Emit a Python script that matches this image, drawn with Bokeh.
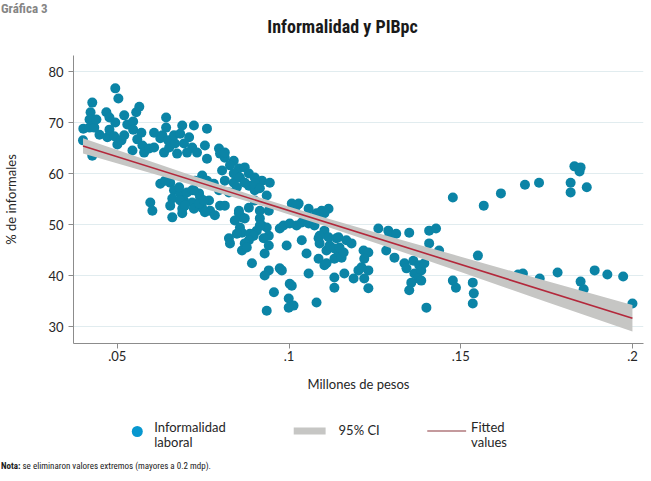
from bokeh.plotting import figure
from bokeh.models import Range1d, Label, FixedTicker, Div
from bokeh.layouts import column
from bokeh.embed import file_html
from bokeh.resources import INLINE

# ---------------- data ----------------
pib = [
    0.0400, 0.0401, 0.0419, 0.0433, 0.0422, 0.0427, 0.0419, 0.0439, 0.0448, 0.0468,
    0.0477, 0.0471, 0.0477, 0.0494, 0.0503, 0.0494, 0.0491, 0.0520, 0.0500, 0.0512,
    0.0520, 0.0529, 0.0546, 0.0555, 0.0564, 0.0546, 0.0570, 0.0558, 0.0544, 0.0573,
    0.0578, 0.0593, 0.0607, 0.0607, 0.0625, 0.0631, 0.0642, 0.0642, 0.0648, 0.0636,
    0.0651, 0.0668, 0.0427, 0.0689, 0.0723, 0.0761, 0.0665, 0.0683, 0.0709, 0.0694,
    0.0718, 0.0732, 0.0703, 0.0674, 0.0761, 0.0796, 0.0799, 0.0813, 0.0839, 0.0828,
    0.0854, 0.0871, 0.0805, 0.0883, 0.0900, 0.0921, 0.0747, 0.0761, 0.0781, 0.0813,
    0.0839, 0.0848, 0.0796, 0.0825, 0.0883, 0.0900, 0.0654, 0.0665, 0.0683, 0.0703,
    0.0694, 0.0718, 0.0741, 0.0767, 0.0770, 0.0799, 0.0747, 0.0723, 0.0689, 0.0854,
    0.0863, 0.0915, 0.0883, 0.0900, 0.0755, 0.0625, 0.0639, 0.0680, 0.0718, 0.0738,
    0.0660, 0.0683, 0.0697, 0.0738, 0.0752, 0.0596, 0.0602, 0.0654, 0.0689, 0.0660,
    0.0813, 0.0839, 0.0857, 0.0900, 0.0944, 0.0871, 0.0726, 0.0723, 0.0784, 0.0755,
    0.0854, 0.0871, 0.0842, 0.0857, 0.0863, 0.0886, 0.0915, 0.0941, 0.0935, 0.0915,
    0.0921, 0.0935, 0.0941, 0.0926, 0.0906, 0.0897, 0.0883, 0.0871, 0.0863, 0.0825,
    0.0828, 0.0941, 0.0929, 0.0892, 0.0941, 0.0929, 0.0973, 0.0956, 0.0935, 0.1002,
    0.0999, 0.1013, 0.0999, 0.0993, 0.0973, 0.0984, 0.1002, 0.1022, 0.1037, 0.1057,
    0.1080, 0.1095, 0.1115, 0.1008, 0.1028, 0.1057, 0.1074, 0.1037, 0.1051, 0.1086,
    0.1086, 0.1109, 0.1103, 0.1089, 0.1118, 0.1132, 0.1144, 0.1132, 0.1132, 0.1057,
    0.1080, 0.1103, 0.1115, 0.0813, 0.0848, 0.0877, 0.0915, 0.0979, 0.1008, 0.1022,
    0.1057, 0.1086, 0.1089, 0.1109, 0.1132, 0.1138, 0.1103, 0.1147, 0.1153, 0.1144,
    0.1167, 0.1182, 0.1159, 0.1161, 0.1188, 0.1202, 0.1217, 0.1231, 0.1219, 0.1231,
    0.1219, 0.1231, 0.1211, 0.1260, 0.1289, 0.1292, 0.1312, 0.1283, 0.1307, 0.1350,
    0.1336, 0.1342, 0.1362, 0.1365, 0.1379, 0.1385, 0.1376, 0.1356, 0.1350, 0.1385,
    0.1394, 0.1408, 0.1408, 0.1428, 0.1437, 0.1477, 0.1567, 0.1550, 0.1477, 0.1486,
    0.1535, 0.1538, 0.1535, 0.1400, 0.1617, 0.1687, 0.1728, 0.1820, 0.1820, 0.1867,
    0.1831, 0.1849, 0.1846, 0.1667, 0.1681, 0.1730, 0.1782, 0.1849, 0.1858, 0.1890,
    0.1927, 0.1973, 0.2000,
]
informal = [
    66.5, 68.8, 69.0, 69.0, 72.0, 73.9, 70.6, 70.6, 67.6, 72.0,
    71.0, 67.1, 68.6, 76.7, 74.7, 70.0, 67.3, 71.4, 65.7, 66.5,
    67.5, 69.6, 70.2, 72.0, 73.1, 68.6, 68.0, 66.7, 64.5, 65.5,
    64.1, 64.9, 65.1, 68.0, 66.9, 67.5, 71.0, 69.0, 66.5, 64.1,
    65.1, 65.9, 63.5, 69.4, 69.4, 68.8, 67.5, 67.8, 67.1, 65.9,
    65.1, 64.1, 64.1, 63.9, 62.9, 64.9, 63.9, 63.1, 62.5, 61.6,
    61.0, 61.2, 60.6, 60.0, 59.2, 58.6, 59.6, 58.6, 58.0, 58.6,
    58.2, 57.3, 56.7, 56.3, 57.6, 56.7, 58.2, 56.7, 56.1, 56.3,
    54.7, 54.3, 55.3, 54.7, 52.7, 53.7, 53.3, 53.1, 53.1, 52.7,
    51.4, 52.7, 53.3, 54.7, 65.5, 58.0, 58.6, 57.3, 56.7, 56.1,
    55.1, 54.7, 53.7, 54.1, 54.7, 54.3, 52.7, 53.7, 52.2, 51.4,
    64.1, 60.0, 59.2, 58.0, 58.2, 58.2, 58.6, 56.7, 51.8, 52.4,
    52.2, 51.2, 50.8, 49.4, 48.4, 48.2, 51.2, 52.7, 55.7, 57.1,
    49.8, 49.4, 47.8, 47.3, 48.8, 47.8, 46.9, 46.3, 44.9, 47.3,
    46.3, 45.9, 44.3, 42.4, 41.0, 40.0, 41.4, 36.7, 33.1, 38.4,
    35.5, 34.1, 33.7, 45.9, 49.2, 49.8, 50.2, 49.8, 50.4, 51.4,
    52.2, 52.7, 53.1, 54.1, 54.1, 50.2, 49.8, 46.9, 44.3, 47.3,
    43.3, 44.9, 42.0, 46.3, 45.9, 43.3, 44.5, 39.6, 37.6, 40.4,
    34.7, 48.8, 47.5, 53.7, 48.2, 45.5, 49.8, 41.0, 38.0, 53.7,
    53.1, 51.4, 47.8, 42.4, 45.3, 47.3, 52.2, 45.5, 43.5, 47.5,
    46.9, 46.3, 44.5, 40.4, 39.4, 41.0, 44.9, 44.5, 43.3, 41.0,
    39.4, 37.5, 41.6, 49.2, 48.8, 47.8, 48.2, 44.9, 43.5, 48.4,
    42.4, 41.4, 42.9, 40.4, 42.0, 41.0, 39.4, 38.6, 37.1, 39.0,
    42.4, 46.3, 48.8, 49.2, 44.9, 55.3, 53.7, 43.9, 39.0, 37.6,
    38.6, 36.5, 34.5, 33.7, 56.1, 57.8, 58.2, 58.2, 56.3, 57.3,
    61.4, 61.2, 60.4, 40.2, 40.4, 39.4, 40.6, 38.8, 37.3, 41.0,
    40.2, 39.8, 34.5,
]

# fitted values and 95% CI
fit_x = [0.040, 0.200]
fit_y = [65.4, 31.6]
ci_x = [0.040, 0.070, 0.090, 0.110, 0.130, 0.150, 0.175, 0.200]
ci_lo = [63.9, 58.1, 54.1, 49.8, 45.3, 40.7, 34.8, 29.0]
ci_hi = [66.9, 60.0, 55.6, 51.4, 47.5, 43.7, 38.9, 34.2]

x_ticks = [0.05, 0.10, 0.15, 0.20]
x_tick_labels = [".05", ".1", ".15", ".2"]
y_ticks = [30, 40, 50, 60, 70, 80]

title_text = "Informalidad y PIBpc"
kicker_text = "Gráfica 3"
x_title = "Millones de pesos"
y_title = "% de informales"
legend_labels = [["Informalidad", "laboral"], ["95% CI"], ["Fitted", "values"]]
note_bold = "Nota:"
note_text = "se eliminaron valores extremos (mayores a 0.2 mdp)."

# ---------------- styles ----------------
TEAL = "#0b84a6"
BAND = "#c6c6c4"
RED = "#b3283b"
AXIS = "#8c8c8c"
TXT = "#262626"
REG = "Lato"
COND = "Roboto Condensed, DejaVu Sans Condensed, Liberation Sans Narrow, Roboto"
W = 651
LEFT, RIGHT = 71, 8   # frame borders shared by the stacked figures


def blank(top, bottom):
    f = figure(width=W, height=bottom - top,
               x_range=Range1d(LEFT, W - RIGHT), y_range=Range1d(bottom, top),
               output_backend="svg", toolbar_location=None,
               x_axis_type=None, y_axis_type=None,
               min_border_left=LEFT, min_border_right=RIGHT,
               min_border_top=0, min_border_bottom=0)
    f.outline_line_color = None
    f.grid.visible = False
    return f


# ---------------- kicker ----------------
kicker = Div(text=kicker_text, width=W, height=15, margin=(0, 0, 0, 0),
             styles={"font-family": COND, "font-weight": "bold", "font-size": "13px",
                     "line-height": "17px", "color": "#858585", "padding-left": "1px"})

# ---------------- title strip (page rows 15..55) ----------------
t = blank(15, 55)
t.add_layout(Label(x=341, y=26, text=title_text, text_align="center", text_baseline="middle",
                   text_font=COND, text_font_style="bold", text_font_size="18px",
                   text_color="#1a1a1a"))

# ---------------- main scatter ----------------
p = figure(width=W, height=345,
           x_range=Range1d(0.037232, 0.20322), y_range=Range1d(26.667, 83.14),
           output_backend="svg", toolbar_location=None,
           min_border_left=LEFT, min_border_right=RIGHT, min_border_top=0, min_border_bottom=57)
p.outline_line_color = None

p.xgrid.visible = False
p.ygrid.ticker = FixedTicker(ticks=y_ticks)
p.ygrid.grid_line_color = "#e1ecef"
p.ygrid.grid_line_width = 1

p.xaxis.ticker = FixedTicker(ticks=x_ticks)
p.xaxis.major_label_overrides = {tk: lb for tk, lb in zip(x_ticks, x_tick_labels)}
p.yaxis.ticker = FixedTicker(ticks=y_ticks)
for ax in (p.xaxis, p.yaxis):
    ax.axis_line_color = AXIS
    ax.major_tick_line_color = AXIS
    ax.minor_tick_line_color = None
    ax.major_tick_in = 0
    ax.major_tick_out = 5
    ax.major_label_text_font = REG
    ax.major_label_text_font_size = "13px"
    ax.major_label_text_color = TXT
    ax.axis_label_text_font = REG
    ax.axis_label_text_font_size = "13px"
    ax.axis_label_text_font_style = "normal"
    ax.axis_label_text_color = TXT
p.xaxis.axis_label = x_title
p.yaxis.axis_label = y_title
p.xaxis.major_label_standoff = 2
p.xaxis.axis_label_standoff = 12
p.yaxis.major_label_standoff = 5
p.yaxis.axis_label_standoff = 26

p.scatter(pib, informal, size=10, fill_color=TEAL, line_color=None)
p.varea(x=ci_x, y1=ci_lo, y2=ci_hi, fill_color=BAND, fill_alpha=1.0)
p.line(fit_x, fit_y, line_color=RED, line_width=1.6)

# ---------------- legend (page rows 400..460) ----------------
q = blank(400, 460)
q.scatter([135], [431], size=11, fill_color="#0897cf", line_color=None)
q.quad(left=[292], right=[324], top=[427], bottom=[434], fill_color=BAND, line_color=None)
q.line([426, 465], [430.5, 430.5], line_color="#c49a9d", line_width=2)

leg_x = [152, 337, 470]
for lx, lines in zip(leg_x, legend_labels):
    ys = [429.5] if len(lines) == 1 else [426.5, 441.5]
    for ly, tx in zip(ys, lines):
        q.add_layout(Label(x=lx, y=ly, text=tx, text_align="left", text_baseline="middle",
                           text_font=REG, text_font_size="13px", text_color=TXT))

# ---------------- note ----------------
note = Div(text="<b>%s</b> %s" % (note_bold, note_text), width=W, height=21, margin=(0, 0, 0, 0),
           styles={"font-family": COND, "font-size": "9px", "line-height": "10px",
                   "color": "#1a1a1a", "padding-left": "1px", "padding-top": "1px"})

layout = column(kicker, t, p, q, note, spacing=0)
open("out.html", "w").write(file_html(layout, INLINE))
